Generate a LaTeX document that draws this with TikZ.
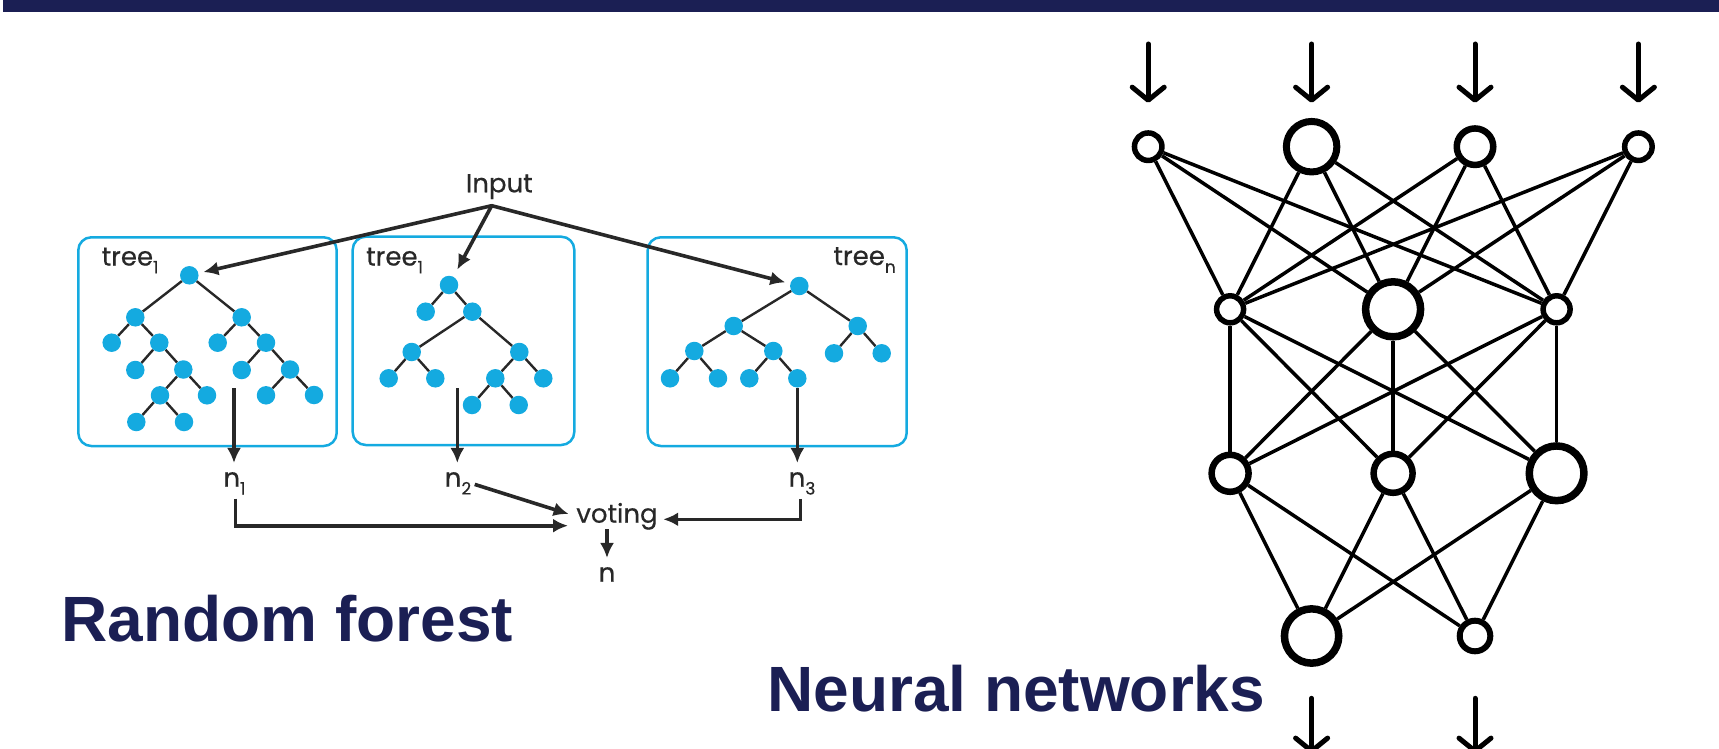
\documentclass[tikz,border=0pt]{standalone}
\usepackage{fontspec}
\setmainfont{Poppins}
\newfontfamily\lblfont{Poppins}[FakeBold=0.5]
\newfontfamily\titlefont{Liberation Sans}
\usetikzlibrary{arrows.meta}
\definecolor{navy}{RGB}{27,31,84}
\definecolor{tcyan}{RGB}{20,170,224}
\definecolor{dgray}{RGB}{40,40,40}
\newcommand\mysub[1]{\raisebox{-0.3em}{\fontsize{17}{17}\selectfont #1}}
\tikzset{
  tbox/.style={draw=tcyan, line width=2.5pt, rounded corners=13pt},
  tn/.style={circle, fill=tcyan, inner sep=0pt, minimum size=18.5pt},
  tedge/.style={draw=dgray, line width=2.4pt},
  arr/.style={draw=dgray, line width=3.6pt, -{Latex[length=15pt,width=14pt]}},
  lbl/.style={text=dgray, font=\lblfont\fontsize{26}{26}\selectfont, inner sep=0pt},
  title/.style={text=navy, font=\titlefont\bfseries\fontsize{64}{64}\selectfont, inner sep=0pt},
  nn/.style={circle, draw=black, fill=white, inner sep=0pt},
  nnsmall/.style={nn, line width=5.5pt, minimum size=27.5pt},
  nnmid/.style={nn, line width=6.5pt, minimum size=37.5pt},
  nnbig/.style={nn, line width=7.5pt, minimum size=54.5pt},
  nnedge/.style={draw=black, line width=3.5pt},
  nnarr/.style={draw=black, line width=5pt, line cap=round, -{Straight Barb[length=13pt,width=32pt,round]}}
}
\begin{document}
\begin{tikzpicture}[x=1pt,y=-1pt]
\useasboundingbox (0,0) rectangle (1719,749);
\fill[navy] (3,0) rectangle (1719,12);

% ---------------- Random forest ----------------
\draw[tbox] (78.3,237.3) rectangle (336.7,446);
\draw[tbox] (352.7,236.7) rectangle (574.3,445);
\draw[tbox] (647.7,237.3) rectangle (906.7,446);

\node[lbl, anchor=base west] (lt1) at (101.5,265.5) {tree\mysub{1}};
\node[lbl, anchor=base west] (lt2) at (366,265.5) {tree\mysub{1}};
\node[lbl, anchor=base east] (lt3) at (896,265) {tree\mysub{n}};

% tree 1
\node[tn] (p) at (189.3,275.3) {};
\node[tn] (pL) at (135.3,317.3) {};
\node[tn] (pR) at (241.7,317.3) {};
\node[tn] (pLL) at (111.7,342.7) {};
\node[tn] (pLR) at (159.3,342.7) {};
\node[tn] (pLRL) at (135.3,370) {};
\node[tn] (pLRR) at (183.3,369.5) {};
\node[tn] (pLRRL) at (160,395.3) {};
\node[tn] (pLRRR) at (207,395.3) {};
\node[tn] (pLRRLL) at (136.3,422) {};
\node[tn] (pLRRLR) at (184,422) {};
\node[tn] (pRL) at (217.7,342.7) {};
\node[tn] (pRR) at (266,342.7) {};
\node[tn] (pRRL) at (241.7,370) {};
\node[tn] (pRRR) at (290,369.5) {};
\node[tn] (pRRRL) at (266,395.3) {};
\node[tn] (pRRRR) at (314,395) {};
\draw[tedge] (p)--(pL) (p)--(pR) (pL)--(pLL) (pL)--(pLR) (pLR)--(pLRL) (pLR)--(pLRR)
  (pLRR)--(pLRRL) (pLRR)--(pLRRR) (pLRRL)--(pLRRLL) (pLRRL)--(pLRRLR)
  (pR)--(pRL) (pR)--(pRR) (pRR)--(pRRL) (pRR)--(pRRR) (pRRR)--(pRRRL) (pRRR)--(pRRRR);

% tree 2
\node[tn] (q) at (449,285) {};
\node[tn] (qL) at (425.7,311.7) {};
\node[tn] (qR) at (472.3,311.7) {};
\node[tn] (qRL) at (411.7,352) {};
\node[tn] (qRR) at (519.3,352) {};
\node[tn] (qRLL) at (388.7,378.3) {};
\node[tn] (qRLR) at (435.3,378.3) {};
\node[tn] (qRRL) at (495.3,378.3) {};
\node[tn] (qRRR) at (543.3,378.3) {};
\node[tn] (qRRLL) at (472,405) {};
\node[tn] (qRRLR) at (518.7,405) {};
\draw[tedge] (q)--(qL) (q)--(qR) (qR)--(qRL) (qR)--(qRR) (qRL)--(qRLL) (qRL)--(qRLR)
  (qRR)--(qRRL) (qRR)--(qRRR) (qRRL)--(qRRLL) (qRRL)--(qRRLR);

% tree n
\node[tn] (s) at (799.3,286) {};
\node[tn] (sL) at (733.7,326) {};
\node[tn] (sR) at (857.7,326) {};
\node[tn] (sLL) at (694.3,351) {};
\node[tn] (sLR) at (773.3,351) {};
\node[tn] (sLLL) at (670,378.3) {};
\node[tn] (sLLR) at (718,378.3) {};
\node[tn] (sLRL) at (749.3,378.3) {};
\node[tn] (sLRR) at (797.3,378.3) {};
\node[tn] (sRL) at (834,353.3) {};
\node[tn] (sRR) at (881.7,353.3) {};
\draw[tedge] (s)--(sL) (s)--(sR) (sL)--(sLL) (sL)--(sLR) (sLL)--(sLLL) (sLL)--(sLLR)
  (sLR)--(sLRL) (sLR)--(sLRR) (sR)--(sRL) (sR)--(sRR);

% input
\node[lbl, anchor=base] (input) at (499.3,192.3) {Input};
\coordinate (apex) at (491.7,205.7);
\draw[arr, line cap=round, shorten >=5pt] (apex) -- (p);
\draw[arr, line cap=round, shorten >=8pt] (apex) -- (q);
\draw[arr, line cap=round, shorten >=5pt] (apex) -- (s);

% outputs
\node[lbl, anchor=base] (n1) at (234.5,486.7) {n\mysub{1}};
\node[lbl, anchor=base] (n2) at (458,486.7) {n\mysub{2}};
\node[lbl, anchor=base] (n3) at (802,486.7) {n\mysub{3}};
\node[lbl, anchor=base] (voting) at (617,522.7) {voting};
\node[lbl, anchor=base] (nout) at (607,581.7) {n};

\coordinate (d1) at (234,388.3);
\coordinate (d2) at (457.3,388.3);
\draw[arr, shorten >=9pt] (d1) -- (d1 |- n1.north);
\draw[arr, shorten >=9pt] (d2) -- (d2 |- n2.north);
\draw[arr, shorten >=9pt] (sLRR) -- (sLRR |- n3.north);

\coordinate (vin1) at (568,525.7);
\coordinate (vin2) at (568.6,514);
\coordinate (vin3) at (663.2,519.3);
\coordinate (vout) at (607,529.3);
\draw[arr] (n1.south) ++(1,4) |- (vin1);
\draw[arr, shorten <=3.5pt] (n2.east) -- (vin2);
\draw[arr] (n3.south) ++(-1.5,4) |- (vin3);
\draw[arr, shorten >=9pt] (vout) -- (vout |- nout.north);

\node[title, anchor=base west] (rf) at (61.5,641.7) {Random forest};

% ---------------- Neural network ----------------
\node[nnsmall] (a1) at (1148.2,146.7) {};
\node[nnbig, minimum size=50.5pt, line width=7pt] (a2) at (1311.6,146.7) {};
\node[nnmid, minimum size=36.5pt] (a3) at (1475,146.7) {};
\node[nnsmall] (a4) at (1638.4,146.7) {};
\node[nnsmall, minimum size=27pt] (b1) at (1230.1,309.3) {};
\node[nnbig, minimum size=55pt] (b2) at (1393.1,309.3) {};
\node[nnsmall, minimum size=27pt] (b3) at (1556.6,309.3) {};
\node[nnmid, minimum size=37pt] (c1) at (1230.1,473.3) {};
\node[nnmid, minimum size=39pt] (c2) at (1393.1,473.3) {};
\node[nnbig, minimum size=54.7pt] (c3) at (1556.6,473.3) {};
\node[nnbig, minimum size=54.3pt] (d1n) at (1311.6,636) {};
\node[nnsmall, minimum size=30.6pt, line width=6pt] (d2n) at (1475,636) {};

\foreach \u in {a1,a2,a3,a4}{\foreach \v in {b1,b2,b3}{\draw[nnedge] (\u) -- (\v);}}
\foreach \u in {b1,b2,b3}{\foreach \v in {c1,c2,c3}{\draw[nnedge] (\u) -- (\v);}}
\foreach \u in {c1,c2,c3}{\foreach \v in {d1n,d2n}{\draw[nnedge] (\u) -- (\v);}}

\foreach \n/\x in {1/1148.2,2/1311.6,3/1475,4/1638.4}{
  \coordinate (it\n) at (\x,44);
  \coordinate (ih\n) at (\x,102.7);
  \draw[nnarr] (it\n) -- (ih\n);
}
\foreach \n/\x in {1/1311.6,2/1475}{
  \coordinate (ot\n) at (\x,698.3);
  \coordinate (oh\n) at (\x,753.6);
  \draw[nnarr] (ot\n) -- (oh\n);
}

\node[title, anchor=base west] (nnt) at (767,711.7) {Neural networks};
\end{tikzpicture}
\end{document}
